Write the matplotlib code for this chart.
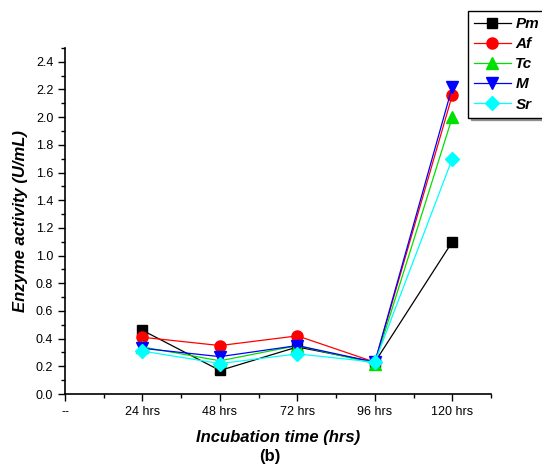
import matplotlib
matplotlib.use("Agg")
import matplotlib.pyplot as plt
from matplotlib.ticker import MultipleLocator, FixedLocator

plt.rcParams['font.family'] = ['Liberation Sans', 'DejaVu Sans']

categories = ["--", "24 hrs", "48 hrs", "72 hrs", "96 hrs", "120 hrs"]
series_names = ["Pm", "Af", "Tc", "M", "Sr"]
pm = [0.46, 0.17, 0.34, 0.23, 1.10]
af = [0.41, 0.35, 0.42, 0.23, 2.16]
tc = [0.34, 0.24, 0.35, 0.22, 2.00]
m_ = [0.33, 0.27, 0.35, 0.23, 2.22]
sr = [0.31, 0.22, 0.29, 0.23, 1.70]

values = [pm, af, tc, m_, sr]
colors = ["black", "red", "#00e000", "blue", "cyan"]
markers = ["s", "o", "^", "v", "D"]
msizes = [7, 8, 8, 8, 7]

fig = plt.figure(figsize=(5.42, 4.67), dpi=100)
ax = fig.add_axes([0.12, 0.1563, 0.786, 0.741])

x = list(range(1, len(categories)))
for name, vals, c, mk, ms in zip(series_names, values, colors, markers, msizes):
    ax.plot(x, vals, color=c, marker=mk, markersize=ms, linewidth=0.9,
            markeredgecolor=c, label=name)

ax.set_xlim(0, 5.5)
ax.set_ylim(0, 2.5)
ax.xaxis.set_major_locator(FixedLocator(range(len(categories))))
ax.set_xticklabels(categories)
ax.xaxis.set_minor_locator(MultipleLocator(0.5))
ax.yaxis.set_major_locator(MultipleLocator(0.2))
ax.yaxis.set_minor_locator(MultipleLocator(0.1))
ax.yaxis.set_major_formatter(matplotlib.ticker.FormatStrFormatter('%.1f'))
ax.tick_params(which='major', direction='out', length=5, width=1, labelsize=9)
ax.tick_params(which='minor', direction='out', length=3, width=1)
ax.spines['top'].set_visible(False)
ax.spines['right'].set_visible(False)
for s in ['left', 'bottom']:
    ax.spines[s].set_linewidth(1.2)

ax.set_xlabel("Incubation time (hrs)", fontsize=12, fontweight='bold', fontstyle='italic', labelpad=9)
ax.set_ylabel("Enzyme activity (U/mL)", fontsize=12, fontweight='bold', fontstyle='italic', labelpad=6)
fig.text(270/542, 1 - 456/467, "(b)", fontsize=12, fontweight='bold', ha='center', va='center')

leg = ax.legend(loc='upper left', bbox_to_anchor=(468/542, 1 - 11/467),
                bbox_transform=fig.transFigure, fancybox=False, shadow=True,
                framealpha=1, edgecolor='black', handlelength=2.4,
                prop={'weight': 'bold', 'style': 'italic', 'size': 11},
                labelspacing=0.4, borderpad=0.4, handletextpad=0.3,
                borderaxespad=0)
leg.get_frame().set_linewidth(1)

fig.savefig("out.png", dpi=100)
